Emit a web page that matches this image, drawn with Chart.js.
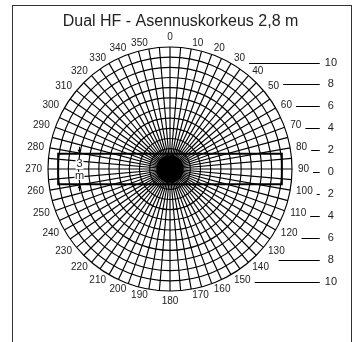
<!DOCTYPE html>
<html><head><meta charset="utf-8">
<script src="https://cdn.jsdelivr.net/npm/chart.js@4/dist/chart.umd.min.js"></script>
<style>
html,body{margin:0;padding:0;background:#fff;}
#wrap{position:relative;width:354px;height:342px;overflow:hidden;}
#frame{position:absolute;left:12px;top:5px;width:340px;height:420px;border:1.5px solid #333;box-sizing:border-box;}
canvas{position:absolute;left:0;top:0;}
</style></head><body>
<div id="wrap"><div id="frame"></div><canvas id="c" width="354" height="342"></canvas></div>
<script>
// Angle categories (degrees), one spoke every 5°
const angles = [0,5,10,15,20,25,30,35,40,45,50,55,60,65,70,75,80,85,90,95,100,105,110,115,
  120,125,130,135,140,145,150,155,160,165,170,175,180,185,190,195,200,205,210,215,220,225,230,235,
  240,245,250,255,260,265,270,275,280,285,290,295,300,305,310,315,320,325,330,335,340,345,350,355];
// Radial distance rings (m)
const ringMax = 12;
const ringStep = 1;
// Sensor body radius (m)
const sensorRadius = 1.35;
// Side scale tick values (m across the corridor)
const sideTicks = [10,8,6,4,2,0,-2,-4,-6,-8,-10];
// Detection area (m): along and across
const coverageX = [-11, 11];
const coverageY = [-1.5, 1.5];
const coverageLabel = ['3', 'm'];
const titleText = 'Dual HF - Asennuskorkeus 2,8 m';

const FONT = '"Liberation Sans", Arial, Helvetica, sans-serif';
const INK = '#000';
const TEXT = '#222';

const angleLabel = (l) => (l % 10 === 0 ? String(l) : '');

const overlay = {
  id: 'overlay',
  afterDraw(chart) {
    const r = chart.scales.r, y = chart.scales.y, ctx = chart.ctx;
    const cx = r.xCenter, cy = r.yCenter;
    const R = r.drawingArea;
    const px = m => cx + r.getDistanceFromCenterForValue(m);
    const py = m => cy - r.getDistanceFromCenterForValue(m);
    ctx.save();
    // angle labels (horizontal text, vertically centred beside the ring)
    ctx.font = '10px ' + FONT;
    ctx.fillStyle = TEXT;
    ctx.textBaseline = 'middle';
    const boxes = [];
    angles.forEach((a, i) => {
      const txt = angleLabel(a);
      if (!txt) return;
      const p = r.getPointPosition(i, R + 6);
      let x = p.x, yy = p.y;
      const w = ctx.measureText(txt).width;
      if (a === 0) { ctx.textAlign = 'center'; yy -= 4; }
      else if (a === 180) { ctx.textAlign = 'center'; yy += 4; }
      else if (a < 180) { ctx.textAlign = 'left'; boxes.push({ right: x + w, cy: yy }); }
      else { ctx.textAlign = 'right'; }
      ctx.fillText(txt, x, yy);
    });
    // sensor body
    ctx.fillStyle = INK;
    ctx.beginPath(); ctx.arc(cx, cy, r.getDistanceFromCenterForValue(sensorRadius), 0, Math.PI * 2); ctx.fill();
    // coverage rectangle
    const x1 = px(coverageX[0]), x2 = px(coverageX[1]);
    const yT = py(coverageY[1]), yB = py(coverageY[0]);
    ctx.strokeStyle = INK; ctx.lineWidth = 2;
    ctx.strokeRect(x1, yT, x2 - x1, yB - yT);
    // dimension marker
    const xd = Math.round(px(coverageX[0] + 2)) + 0.5;
    ctx.lineWidth = 1;
    ctx.fillStyle = INK;
    ctx.beginPath(); ctx.moveTo(xd, yT - 7); ctx.lineTo(xd, yT - 1); ctx.stroke();
    ctx.beginPath(); ctx.moveTo(xd - 2, yT - 4); ctx.lineTo(xd + 2, yT - 4); ctx.lineTo(xd, yT); ctx.closePath(); ctx.fill();
    ctx.beginPath(); ctx.moveTo(xd, yB + 7); ctx.lineTo(xd, yB + 1); ctx.stroke();
    ctx.beginPath(); ctx.moveTo(xd - 2, yB + 4); ctx.lineTo(xd + 2, yB + 4); ctx.lineTo(xd, yB); ctx.closePath(); ctx.fill();
    ctx.font = '11px ' + FONT;
    ctx.textAlign = 'center'; ctx.textBaseline = 'middle';
    const t1y = yT + 10.5, t2y = yB - 8.5;
    ctx.fillStyle = '#fff';
    ctx.fillRect(xd - 4, t1y - 5, 8, 10);
    ctx.fillRect(xd - 5, t2y - 4, 10, 8);
    ctx.fillStyle = TEXT;
    ctx.fillText(coverageLabel[0], xd, t1y);
    ctx.fillText(coverageLabel[1], xd, t2y);
    // leader lines to the side scale, starting after the ring / angle label
    ctx.lineWidth = 1; ctx.strokeStyle = INK;
    y.ticks.forEach(t => {
      const ty = Math.round(y.getPixelForValue(t.value)) + 0.5;
      const dy = ty - cy;
      const hx = cx + Math.sqrt(Math.max(0, R * R - dy * dy));
      let start = hx + (dy <= 0 ? 21 : 28);
      const hit = boxes.filter(b => Math.abs(b.cy - ty) <= 6);
      if (hit.length) start = Math.max(...hit.map(b => b.right)) + 4;
      const end = y.left;
      start = Math.min(start, end - 3);
      ctx.beginPath(); ctx.moveTo(start, ty); ctx.lineTo(end, ty); ctx.stroke();
    });
    ctx.restore();
  }
};

new Chart(document.getElementById('c'), {
  type: 'radar',
  data: { labels: angles, datasets: [] },
  options: {
    responsive: false,
    animation: false,
    layout: { padding: { left: 19, right: 12, top: 0, bottom: 33 } },
    plugins: {
      legend: { display: false },
      tooltip: { enabled: false },
      title: {
        display: true, text: titleText, color: TEXT,
        font: { family: FONT, size: 16, weight: 'normal', lineHeight: 1 },
        padding: { top: 14, bottom: 0 }
      }
    },
    scales: {
      r: {
        min: 0, max: ringMax,
        ticks: { display: false, stepSize: ringStep },
        grid: { circular: true, color: INK, lineWidth: 1.15 },
        angleLines: { color: INK, lineWidth: 1.15 },
        pointLabels: {
          // kept for layout; the visible labels are drawn by the overlay
          callback: angleLabel,
          font: { family: FONT, size: 10, lineHeight: 1.2 },
          color: 'rgba(0,0,0,0)', padding: 5
        }
      },
      y: {
        type: 'linear', position: 'right',
        min: -12.51, max: 12.97,
        afterBuildTicks: (s) => { s.ticks = sideTicks.map(v => ({ value: v })); },
        ticks: {
          callback: (v) => String(Math.abs(v)),
          font: { family: FONT, size: 11 }, color: TEXT,
          padding: 5, crossAlign: 'center'
        },
        grid: { display: false, drawTicks: false },
        border: { display: false }
      }
    }
  },
  plugins: [overlay]
});
</script>
</body></html>
